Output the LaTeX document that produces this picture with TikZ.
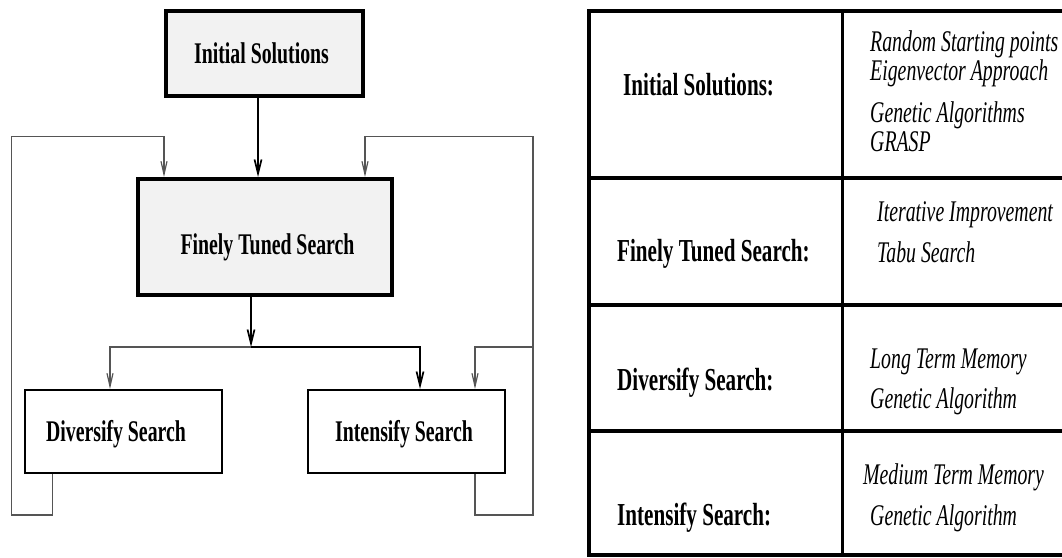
\documentclass[tikz,border=0pt]{standalone}
\usepackage{fontspec}
\newfontfamily\condserif[FakeStretch=0.66]{Liberation Serif}
\usetikzlibrary{arrows.meta}
\definecolor{boxfill}{HTML}{F2F2F2}
\definecolor{loopgray}{HTML}{555555}
\begin{document}
\begin{tikzpicture}[x=1pt,y=-1pt,
  keybox/.style={draw=black, line width=4pt, fill=boxfill, inner sep=0pt},
  subbox/.style={draw=black, line width=2pt, fill=white, inner sep=0pt},
  boxlabel/.style={anchor=base, inner sep=0pt, font=\condserif\bfseries\fontsize{30}{32}\selectfont},
  rowhead/.style={anchor=base west, inner sep=0pt, font=\condserif\bfseries\fontsize{32}{34}\selectfont},
  rowitem/.style={anchor=base west, inner sep=0pt, font=\condserif\itshape\fontsize{30}{32}\selectfont},
  flow/.style={draw=black, line width=1.7pt, -{Straight Barb[length=14pt,width=7pt]}},
  flowline/.style={draw=black, line width=1.9pt},
  feedback/.style={draw=loopgray, line width=1.2pt, -{Straight Barb[length=13pt,width=6pt]}},
  rule/.style={line width=4pt},
  divider/.style={line width=3pt}
]
\useasboundingbox (0,0) rectangle (1062,557);

% ---- flow chart ----
\node[keybox, minimum width=197pt, minimum height=85pt] (init) at (264.5,53.4) {};
\node[boxlabel] (initT) at (261.5,63) {Initial Solutions};

\node[keybox, minimum width=254pt, minimum height=116pt] (fine) at (265,237) {};
\node[boxlabel] (fineT) at (267.5,254) {Finely Tuned Search};

\node[subbox, minimum width=197pt, minimum height=83pt] (div) at (123.5,431.5) {};
\node[boxlabel] (divT) at (116,441) {Diversify Search};

\node[subbox, minimum width=197pt, minimum height=83pt] (intn) at (406,431.5) {};
\node[boxlabel] (intnT) at (404,441) {Intensify Search};

% loop corners
\coordinate (lbot) at (11.3,515);
\coordinate (ltop) at (11.3,136.7);
\coordinate (rbot) at (533,515);
\coordinate (rtop) at (533,136.7);
\coordinate (rmid) at (533,347);
\coordinate (split) at (251,347);

% initial solutions feed the search
\draw[flow] ([xshift=-6.5pt]init.south) -- ([xshift=-6.5pt]init.south |- fine.north);

% search output splits to diversify / intensify
\draw[flow] (split |- fine.south) -- (split);
\draw[feedback] (split) -| ([xshift=-13.5pt]div.north);
\draw[flow] (split) -| ([xshift=14pt]intn.north);

% feedback loops
\draw[feedback] ([xshift=28.4pt]div.south west) |- (lbot) -- (ltop) -| (init.west |- fine.north);
\draw[feedback] ([xshift=168.5pt]intn.south west) |- (rbot) -- (rtop) -| (init.east |- fine.north);
\draw[feedback] (rmid) -| ([xshift=168.5pt]intn.north west);

% ---- table ----
\draw[rule, line join=miter] (1066,11) -- (589,11) -- (589,555) -- (1066,555);
\draw[rule] (589,178) -- (1066,178);
\draw[rule] (589,305) -- (1066,305);
\draw[rule] (589,431) -- (1066,431);
\draw[divider] (842,11) -- (842,555);

\node[rowhead] (h1) at (623,95) {Initial Solutions:};
\node[rowitem] (i1a) at (870,51) {Random Starting points};
\node[rowitem] (i1b) at (870,80) {Eigenvector Approach};
\node[rowitem] (i1c) at (870,122) {Genetic Algorithms};
\node[rowitem] (i1d) at (870,151) {GRASP};

\node[rowhead] (h2) at (617,261) {Finely Tuned Search:};
\node[rowitem] (i2a) at (877,221) {Iterative Improvement};
\node[rowitem] (i2b) at (877,262) {Tabu Search};

\node[rowhead] (h3) at (617,390) {Diversify Search:};
\node[rowitem] (i3a) at (870,368) {Long Term Memory};
\node[rowitem] (i3b) at (870,408) {Genetic Algorithm};

\node[rowhead] (h4) at (617,525) {Intensify Search:};
\node[rowitem] (i4a) at (863,484) {Medium Term Memory};
\node[rowitem] (i4b) at (870,525) {Genetic Algorithm};
\end{tikzpicture}
\end{document}
